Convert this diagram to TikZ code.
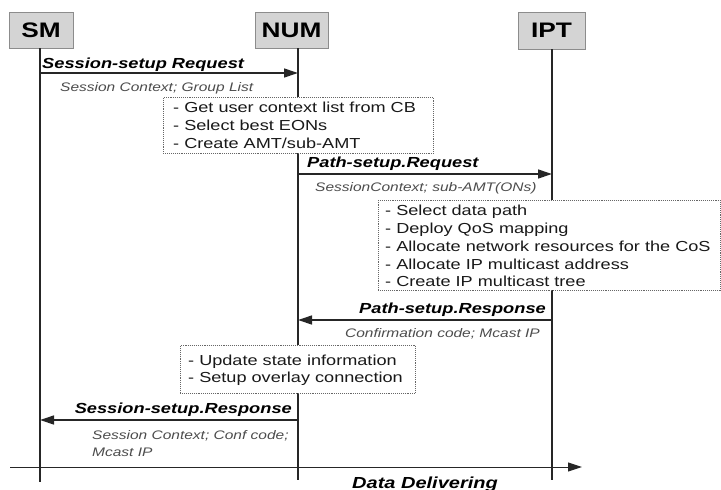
\documentclass[tikz,border=0pt]{standalone}
\usepackage{fontspec}
\setmainfont[FakeStretch=1.25]{Liberation Sans}
\usetikzlibrary{arrows.meta}
\begin{document}
\begin{tikzpicture}[x=1pt,y=-1pt,
  actor/.style={draw=black!45,fill=black!17,line width=0.8pt,inner sep=0,
    font=\fontsize{21}{21}\selectfont\bfseries},
  life/.style={line width=2pt,draw=black!85},
  msg/.style={line width=1.3pt,draw=black!85,-{Triangle[length=14pt,width=9pt]}},
  mlabel/.style={font=\fontsize{14.6}{15}\selectfont\bfseries\itshape,inner sep=0},
  sublabel/.style={font=\fontsize{12.4}{14}\selectfont\itshape,text=black!70,inner sep=0},
  note/.style={draw=black!60,densely dotted,line width=0.9pt,fill=white,inner sep=0,anchor=north west},
  notetext/.style={font=\fontsize{14.5}{15}\selectfont,text=black!90,inner sep=0,anchor=base west}]
\useasboundingbox (0,0) rectangle (721,490);
% actors
\node[actor,minimum width=64pt,minimum height=36pt] (SM) at (41,30) {SM};
\node[actor,minimum width=73pt,minimum height=36pt] (NUM) at (291.5,30) {NUM};
\node[actor,minimum width=67pt,minimum height=37pt] (IPT) at (551.5,30.5) {IPT};
% lifeline anchors
\coordinate (smT) at (40,48);  \coordinate (smB) at (40,482);
\coordinate (numT) at (298,48); \coordinate (numB) at (298,480);
\coordinate (iptT) at (552,49); \coordinate (iptB) at (552,480);
\draw[life] (smT) -- (smB);
\draw[life] (numT) -- (numB);
\draw[life] (iptT) -- (iptB);
% message points
\coordinate (sm1) at (40,73);  \coordinate (num1) at (298,73);
\coordinate (num2) at (298,174); \coordinate (ipt2) at (552,174);
\coordinate (ipt3) at (552,320); \coordinate (num3) at (298,320);
\coordinate (num4) at (298,420); \coordinate (sm4) at (40,420);
\coordinate (d0) at (10,467); \coordinate (d1) at (582,467);
% messages
\draw[msg] (sm1) -- (num1);
\node[mlabel,anchor=base west] (l1) at (42,68) {Session-setup Request};
\node[sublabel,anchor=base west] (s1) at (60,91) {Session Context; Group List};

\node[note,minimum width=270pt,minimum height=56pt] (n1) at (163,97) {};
\node[notetext] (n1a) at (173,112) {- Get user context list from CB};
\node[notetext] (n1b) at (173,130) {- Select best EONs};
\node[notetext] (n1c) at (173,148) {- Create AMT/sub-AMT};

\draw[msg] (num2) -- (ipt2);
\node[mlabel,anchor=base west] (l2) at (307,167) {Path-setup.Request};
\node[sublabel,anchor=base west] (s2) at (315,191) {SessionContext; sub-AMT(ONs)};

\node[note,minimum width=342pt,minimum height=90pt] (n2) at (378,200) {};
\node[notetext] (n2a) at (385,215) {- Select data path};
\node[notetext] (n2b) at (385,233) {- Deploy QoS mapping};
\node[notetext] (n2c) at (385,251) {- Allocate network resources for the CoS};
\node[notetext] (n2d) at (385,269) {- Allocate IP multicast address};
\node[notetext] (n2e) at (385,286) {- Create IP multicast tree};

\draw[msg] (ipt3) -- (num3);
\node[mlabel,anchor=base east] (l3) at (546,313) {Path-setup.Response};
\node[sublabel,anchor=base east] (s3) at (540,337) {Confirmation code; Mcast IP};

\node[note,minimum width=235pt,minimum height=48pt] (n3) at (180,345) {};
\node[notetext] (n3a) at (188,365) {- Update state information};
\node[notetext] (n3b) at (188,382) {- Setup overlay connection};

\draw[msg] (num4) -- (sm4);
\node[mlabel,anchor=base east] (l4) at (292,413) {Session-setup.Response};
\node[sublabel,anchor=base west] (s4a) at (92,439) {Session Context; Conf code;};
\node[sublabel,anchor=base west] (s4b) at (92,456) {Mcast IP};

\draw[msg,line width=1pt] (d0) -- (d1);
\node[mlabel,anchor=base west,font=\fontsize{16}{16}\selectfont\bfseries\itshape] (dd) at (352,488) {Data Delivering};
\end{tikzpicture}
\end{document}
